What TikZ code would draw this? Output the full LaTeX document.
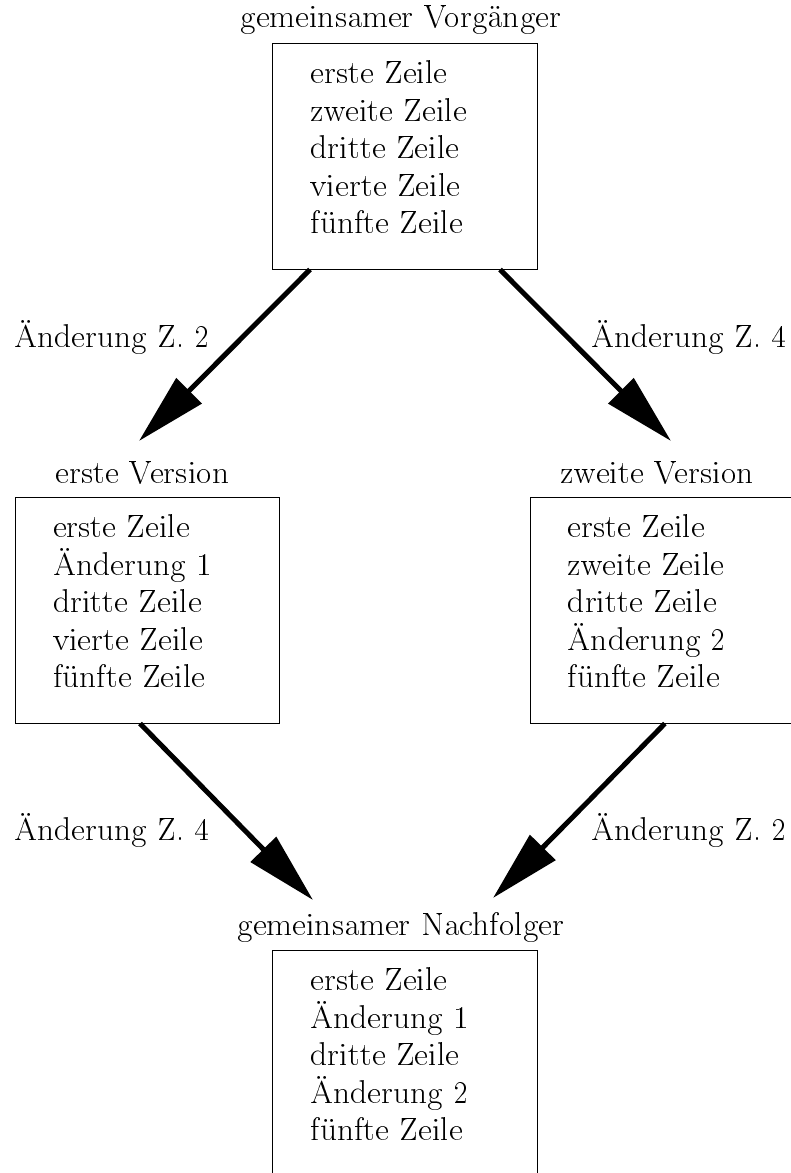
\documentclass[tikz,border=0pt]{standalone}
\usepackage[T1]{fontenc}
\usepackage{tikz}
\usetikzlibrary{arrows.meta}

% Dunhill serif, only at 17.28pt, scaled down in the nodes
\newcommand{\dhfont}{\fontsize{17.28}{19.76}\fontfamily{lmdh}\selectfont}
% five lines of a file, first baseline on top
\newcommand{\filelines}[1]{\parbox[t]{110pt}{#1}}

\begin{document}
\begin{tikzpicture}[x=0.5pt,y=-0.5pt,
  version/.style={draw,line width=0.5pt,minimum width=132.3pt,minimum height=113pt,inner sep=0pt},
  dhtext/.style={inner sep=0pt,font=\dhfont,scale=0.949},
  lines/.style={dhtext,anchor=base west},
  title/.style={dhtext,anchor=base},
  note/.style={dhtext,anchor=base west},
  change/.style={line width=2.5pt,-{Triangle[length=35.5pt,width=17.5pt]}}]
  \useasboundingbox (0,0) rectangle (791,1173);

  % the four file versions
  \node[version] (vorg) at (405,156) {};
  \node[version] (erste) at (147.5,610) {};
  \node[version] (zweite) at (662.3,610) {};
  \node[version] (nach) at (405,1063) {};

  % file contents
  \node[lines] (vorgtext) at ([xshift=19pt,yshift=-20.5pt]vorg.north west)
    {\filelines{erste Zeile\\zweite Zeile\\dritte Zeile\\vierte Zeile\\fünfte Zeile}};
  \node[lines] (erstetext) at ([xshift=19pt,yshift=-20.5pt]erste.north west)
    {\filelines{erste Zeile\\Änderung 1\\dritte Zeile\\vierte Zeile\\fünfte Zeile}};
  \node[lines] (zweitetext) at ([xshift=19pt,yshift=-20.5pt]zweite.north west)
    {\filelines{erste Zeile\\zweite Zeile\\dritte Zeile\\Änderung 2\\fünfte Zeile}};
  \node[lines] (nachtext) at ([xshift=19pt,yshift=-20.5pt]nach.north west)
    {\filelines{erste Zeile\\Änderung 1\\dritte Zeile\\Änderung 2\\fünfte Zeile}};

  % titles above the boxes
  \node[title] (vorgname) at ([xshift=-2pt,yshift=7.5pt]vorg.north) {gemeinsamer Vorgänger};
  \node[title] (erstename) at ([xshift=-2.5pt,yshift=6.7pt]erste.north) {erste Version};
  \node[title] (zweitename) at ([xshift=-2.5pt,yshift=6.7pt]zweite.north) {zweite Version};
  \node[title] (nachname) at ([xshift=-2pt,yshift=7pt]nach.north) {gemeinsamer Nachfolger};

  % arrow tips
  \coordinate (erstetip) at (139,441);
  \coordinate (zweitetip) at (671,441);
  \coordinate (nachl) at (313,900);
  \coordinate (nachr) at (493,898);

  % changes
  \draw[change] ([xshift=-47.5pt]vorg.south) -- (erstetip);
  \draw[change] ([xshift=47.5pt]vorg.south) -- (zweitetip);
  \draw[change] ([xshift=-3.75pt]erste.south) -- (nachl);
  \draw[change] ([xshift=1.3pt]zweite.south) -- (nachr);

  % labels of the changes
  \node[note] (aendzwei) at (14,347.5) {Änderung Z. 2};
  \node[note] (aendvier) at (591,347.5) {Änderung Z. 4};
  \node[note] (aendvierb) at (14,840) {Änderung Z. 4};
  \node[note] (aendzweib) at (591,840) {Änderung Z. 2};
\end{tikzpicture}
\end{document}
